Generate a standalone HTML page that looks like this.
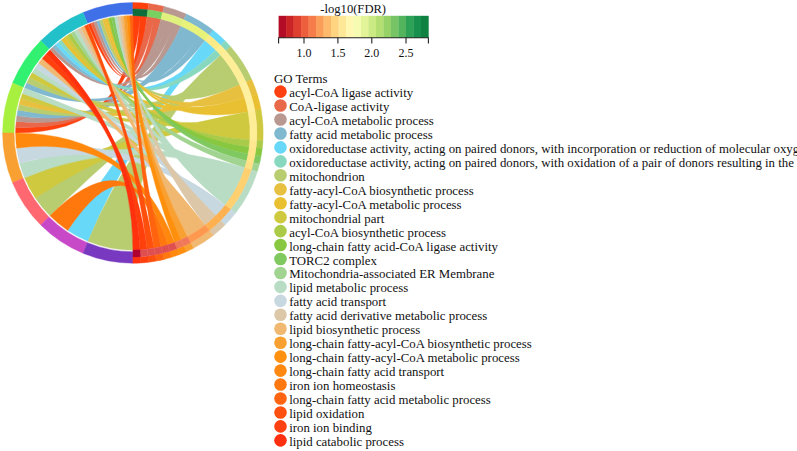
<!DOCTYPE html>
<html lang="en"><head><meta charset="utf-8"><title>GO chord plot</title>
<style>html,body{margin:0;padding:0;background:#fff;}body{width:797px;height:451px;overflow:hidden;}svg{display:block;}</style>
</head><body>
<svg width="797" height="451" viewBox="0 0 797 451" font-family="'Liberation Serif', 'Times New Roman', serif" fill="#111">
<defs><filter id="soft" x="-2%" y="-2%" width="104%" height="104%"><feGaussianBlur stdDeviation="0.4"/></filter></defs>
<rect width="797" height="451" fill="#fff"/>
<g id="chord" filter="url(#soft)">
<path d="M88.01 24.53A117.30 117.30 0 0 1 90.86 23.39Q132.90 132.90 139.98 15.81A117.30 117.30 0 0 1 147.04 16.46Q132.90 132.90 88.01 24.53ZM15.60 132.90A117.30 117.30 0 0 1 15.74 127.14Q132.90 132.90 132.90 15.60A117.30 117.30 0 0 1 139.98 15.81Q132.90 132.90 15.60 132.90Z" fill="#FF4010" stroke="#FF4010" stroke-width="0.35"/>
<path d="M90.86 23.39A117.30 117.30 0 0 1 93.74 22.33Q132.90 132.90 154.04 17.52A117.30 117.30 0 0 1 160.97 19.01Q132.90 132.90 90.86 23.39ZM15.74 127.14A117.30 117.30 0 0 1 16.16 121.40Q132.90 132.90 147.04 16.46A117.30 117.30 0 0 1 154.04 17.52Q132.90 132.90 15.74 127.14Z" fill="#E8684A" stroke="#E8684A" stroke-width="0.35"/>
<path d="M93.74 22.33A117.30 117.30 0 0 1 96.65 21.34Q132.90 132.90 174.50 23.22A117.30 117.30 0 0 1 181.04 25.93Q132.90 132.90 93.74 22.33ZM49.96 49.96A117.30 117.30 0 0 1 52.71 47.29Q132.90 132.90 167.80 20.91A117.30 117.30 0 0 1 174.50 23.22Q132.90 132.90 49.96 49.96ZM16.16 121.40A117.30 117.30 0 0 1 16.87 115.69Q132.90 132.90 160.97 19.01A117.30 117.30 0 0 1 167.80 20.91Q132.90 132.90 16.16 121.40Z" fill="#B89890" stroke="#B89890" stroke-width="0.35"/>
<path d="M96.65 21.34A117.30 117.30 0 0 1 99.59 20.43Q132.90 132.90 199.53 36.36A117.30 117.30 0 0 1 205.24 40.56Q132.90 132.90 96.65 21.34ZM52.71 47.29A117.30 117.30 0 0 1 55.56 44.71Q132.90 132.90 193.58 32.52A117.30 117.30 0 0 1 199.53 36.36Q132.90 132.90 52.71 47.29ZM24.53 88.01A117.30 117.30 0 0 1 26.86 82.75Q132.90 132.90 187.41 29.04A117.30 117.30 0 0 1 193.58 32.52Q132.90 132.90 24.53 88.01ZM16.87 115.69A117.30 117.30 0 0 1 17.85 110.02Q132.90 132.90 181.04 25.93A117.30 117.30 0 0 1 187.41 29.04Q132.90 132.90 16.87 115.69Z" fill="#80B8D0" stroke="#80B8D0" stroke-width="0.35"/>
<path d="M55.56 44.71A117.30 117.30 0 0 1 58.49 42.23Q132.90 132.90 210.68 45.10A117.30 117.30 0 0 1 215.84 49.96Q132.90 132.90 55.56 44.71ZM88.01 241.27A117.30 117.30 0 0 1 67.73 230.43Q132.90 132.90 205.24 40.56A117.30 117.30 0 0 1 210.68 45.10Q132.90 132.90 88.01 241.27Z" fill="#68D8F8" stroke="#68D8F8" stroke-width="0.35"/>
<path d="M58.49 42.23A117.30 117.30 0 0 1 61.49 39.84Q132.90 132.90 215.84 49.96A117.30 117.30 0 0 1 220.70 55.12Q132.90 132.90 58.49 42.23Z" fill="#88D8C0" stroke="#88D8C0" stroke-width="0.35"/>
<path d="M99.59 20.43A117.30 117.30 0 0 1 102.54 19.60Q132.90 132.90 236.76 78.39A117.30 117.30 0 0 1 239.87 84.76Q132.90 132.90 99.59 20.43ZM26.86 82.75A117.30 117.30 0 0 1 29.45 77.61Q132.90 132.90 233.28 72.22A117.30 117.30 0 0 1 236.76 78.39Q132.90 132.90 26.86 82.75ZM17.85 110.02A117.30 117.30 0 0 1 19.12 104.40Q132.90 132.90 229.44 66.27A117.30 117.30 0 0 1 233.28 72.22Q132.90 132.90 17.85 110.02ZM49.96 215.84A117.30 117.30 0 0 1 35.37 198.07Q132.90 132.90 225.24 60.56A117.30 117.30 0 0 1 229.44 66.27Q132.90 132.90 49.96 215.84ZM132.90 250.20A117.30 117.30 0 0 1 88.01 241.27Q132.90 132.90 220.70 55.12A117.30 117.30 0 0 1 225.24 60.56Q132.90 132.90 132.90 250.20Z" fill="#B8CC70" stroke="#B8CC70" stroke-width="0.35"/>
<path d="M102.54 19.60A117.30 117.30 0 0 1 105.52 18.84Q132.90 132.90 242.58 91.30A117.30 117.30 0 0 1 244.89 98.00Q132.90 132.90 102.54 19.60ZM19.12 104.40A117.30 117.30 0 0 1 20.65 98.85Q132.90 132.90 239.87 84.76A117.30 117.30 0 0 1 242.58 91.30Q132.90 132.90 19.12 104.40Z" fill="#E8C040" stroke="#E8C040" stroke-width="0.35"/>
<path d="M105.52 18.84A117.30 117.30 0 0 1 108.51 18.16Q132.90 132.90 246.79 104.83A117.30 117.30 0 0 1 248.28 111.76Q132.90 132.90 105.52 18.84ZM61.49 39.84A117.30 117.30 0 0 1 64.58 37.55Q132.90 132.90 244.89 98.00A117.30 117.30 0 0 1 246.79 104.83Q132.90 132.90 61.49 39.84Z" fill="#E8C030" stroke="#E8C030" stroke-width="0.35"/>
<path d="M64.58 37.55A117.30 117.30 0 0 1 67.73 35.37Q132.90 132.90 250.20 132.90A117.30 117.30 0 0 1 249.99 139.98Q132.90 132.90 64.58 37.55ZM29.45 77.61A117.30 117.30 0 0 1 32.29 72.60Q132.90 132.90 249.99 125.82A117.30 117.30 0 0 1 250.20 132.90Q132.90 132.90 29.45 77.61ZM20.65 98.85A117.30 117.30 0 0 1 22.46 93.38Q132.90 132.90 249.34 118.76A117.30 117.30 0 0 1 249.99 125.82Q132.90 132.90 20.65 98.85ZM35.37 198.07A117.30 117.30 0 0 1 24.53 177.79Q132.90 132.90 248.28 111.76A117.30 117.30 0 0 1 249.34 118.76Q132.90 132.90 35.37 198.07Z" fill="#CFC940" stroke="#CFC940" stroke-width="0.35"/>
<path d="M67.73 35.37A117.30 117.30 0 0 1 70.96 33.29Q132.90 132.90 249.99 139.98A117.30 117.30 0 0 1 249.34 147.04Q132.90 132.90 67.73 35.37Z" fill="#AACA48" stroke="#AACA48" stroke-width="0.35"/>
<path d="M108.51 18.16A117.30 117.30 0 0 1 111.52 17.56Q132.90 132.90 249.34 147.04A117.30 117.30 0 0 1 248.28 154.04Q132.90 132.90 108.51 18.16Z" fill="#88C840" stroke="#88C840" stroke-width="0.35"/>
<path d="M111.52 17.56A117.30 117.30 0 0 1 114.55 17.04Q132.90 132.90 248.28 154.04A117.30 117.30 0 0 1 246.79 160.97Q132.90 132.90 111.52 17.56Z" fill="#80C860" stroke="#80C860" stroke-width="0.35"/>
<path d="M70.96 33.29A117.30 117.30 0 0 1 74.25 31.32Q132.90 132.90 246.79 160.97A117.30 117.30 0 0 1 244.89 167.80Q132.90 132.90 70.96 33.29Z" fill="#A0D490" stroke="#A0D490" stroke-width="0.35"/>
<path d="M114.55 17.04A117.30 117.30 0 0 1 117.59 16.60Q132.90 132.90 230.23 198.36A117.30 117.30 0 0 1 225.24 205.24Q132.90 132.90 114.55 17.04ZM74.25 31.32A117.30 117.30 0 0 1 77.61 29.45Q132.90 132.90 234.72 191.14A117.30 117.30 0 0 1 230.23 198.36Q132.90 132.90 74.25 31.32ZM32.29 72.60A117.30 117.30 0 0 1 35.37 67.73Q132.90 132.90 238.67 183.61A117.30 117.30 0 0 1 234.72 191.14Q132.90 132.90 32.29 72.60ZM22.46 93.38A117.30 117.30 0 0 1 24.53 88.01Q132.90 132.90 242.07 175.82A117.30 117.30 0 0 1 238.67 183.61Q132.90 132.90 22.46 93.38ZM24.53 177.79A117.30 117.30 0 0 1 19.60 163.26Q132.90 132.90 244.89 167.80A117.30 117.30 0 0 1 242.07 175.82Q132.90 132.90 24.53 177.79Z" fill="#B8DCC4" stroke="#B8DCC4" stroke-width="0.35"/>
<path d="M35.37 67.73A117.30 117.30 0 0 1 38.68 63.02Q132.90 132.90 220.70 210.68A117.30 117.30 0 0 1 215.84 215.84Q132.90 132.90 35.37 67.73ZM19.60 163.26A117.30 117.30 0 0 1 16.60 148.21Q132.90 132.90 225.24 205.24A117.30 117.30 0 0 1 220.70 210.68Q132.90 132.90 19.60 163.26Z" fill="#C8D8E0" stroke="#C8D8E0" stroke-width="0.35"/>
<path d="M117.59 16.60A117.30 117.30 0 0 1 120.64 16.24Q132.90 132.90 210.68 220.70A117.30 117.30 0 0 1 205.24 225.24Q132.90 132.90 117.59 16.60ZM77.61 29.45A117.30 117.30 0 0 1 81.02 27.70Q132.90 132.90 215.84 215.84A117.30 117.30 0 0 1 210.68 220.70Q132.90 132.90 77.61 29.45Z" fill="#DCC8A8" stroke="#DCC8A8" stroke-width="0.35"/>
<path d="M120.64 16.24A117.30 117.30 0 0 1 123.70 15.96Q132.90 132.90 193.58 233.28A117.30 117.30 0 0 1 187.41 236.76Q132.90 132.90 120.64 16.24ZM81.02 27.70A117.30 117.30 0 0 1 84.49 26.06Q132.90 132.90 199.53 229.44A117.30 117.30 0 0 1 193.58 233.28Q132.90 132.90 81.02 27.70ZM38.68 63.02A117.30 117.30 0 0 1 42.23 58.49Q132.90 132.90 205.24 225.24A117.30 117.30 0 0 1 199.53 229.44Q132.90 132.90 38.68 63.02Z" fill="#F0B870" stroke="#F0B870" stroke-width="0.35"/>
<path d="M123.70 15.96A117.30 117.30 0 0 1 126.76 15.76Q132.90 132.90 187.41 236.76A117.30 117.30 0 0 1 181.04 239.87Q132.90 132.90 123.70 15.96Z" fill="#F8A030" stroke="#F8A030" stroke-width="0.35"/>
<path d="M126.76 15.76A117.30 117.30 0 0 1 129.83 15.64Q132.90 132.90 181.04 239.87A117.30 117.30 0 0 1 174.50 242.58Q132.90 132.90 126.76 15.76Z" fill="#FF9010" stroke="#FF9010" stroke-width="0.35"/>
<path d="M16.60 148.21A117.30 117.30 0 0 1 15.60 132.90Q132.90 132.90 174.50 242.58A117.30 117.30 0 0 1 167.80 244.89Q132.90 132.90 16.60 148.21Z" fill="#FF8810" stroke="#FF8810" stroke-width="0.35"/>
<path d="M67.73 230.43A117.30 117.30 0 0 1 49.96 215.84Q132.90 132.90 167.80 244.89A117.30 117.30 0 0 1 160.97 246.79Q132.90 132.90 67.73 230.43Z" fill="#FF7810" stroke="#FF7810" stroke-width="0.35"/>
<path d="M129.83 15.64A117.30 117.30 0 0 1 132.90 15.60Q132.90 132.90 160.97 246.79A117.30 117.30 0 0 1 154.04 248.28Q132.90 132.90 129.83 15.64Z" fill="#FF6410" stroke="#FF6410" stroke-width="0.35"/>
<path d="M84.49 26.06A117.30 117.30 0 0 1 88.01 24.53Q132.90 132.90 154.04 248.28A117.30 117.30 0 0 1 147.04 249.34Q132.90 132.90 84.49 26.06Z" fill="#FF5010" stroke="#FF5010" stroke-width="0.35"/>
<path d="M42.23 58.49A117.30 117.30 0 0 1 45.99 54.13Q132.90 132.90 147.04 249.34A117.30 117.30 0 0 1 139.98 249.99Q132.90 132.90 42.23 58.49Z" fill="#FF4010" stroke="#FF4010" stroke-width="0.35"/>
<path d="M45.99 54.13A117.30 117.30 0 0 1 49.96 49.96Q132.90 132.90 139.98 249.99A117.30 117.30 0 0 1 132.90 250.20Q132.90 132.90 45.99 54.13Z" fill="#FF3010" stroke="#FF3010" stroke-width="0.35"/>
<path d="M83.04 12.52A130.30 130.30 0 0 1 132.90 2.60L132.90 14.10A118.80 118.80 0 0 0 87.44 23.14Z" fill="#4070E8" stroke="#4070E8" stroke-width="0.4"/>
<path d="M40.76 40.76A130.30 130.30 0 0 1 83.04 12.52L87.44 23.14A118.80 118.80 0 0 0 48.90 48.90Z" fill="#20C0C8" stroke="#20C0C8" stroke-width="0.4"/>
<path d="M12.52 83.04A130.30 130.30 0 0 1 40.76 40.76L48.90 48.90A118.80 118.80 0 0 0 23.14 87.44Z" fill="#30F070" stroke="#30F070" stroke-width="0.4"/>
<path d="M2.60 132.90A130.30 130.30 0 0 1 12.52 83.04L23.14 87.44A118.80 118.80 0 0 0 14.10 132.90Z" fill="#A8F040" stroke="#A8F040" stroke-width="0.4"/>
<path d="M12.52 182.76A130.30 130.30 0 0 1 2.60 132.90L14.10 132.90A118.80 118.80 0 0 0 23.14 178.36Z" fill="#F8A030" stroke="#F8A030" stroke-width="0.4"/>
<path d="M40.76 225.04A130.30 130.30 0 0 1 12.52 182.76L23.14 178.36A118.80 118.80 0 0 0 48.90 216.90Z" fill="#FF6870" stroke="#FF6870" stroke-width="0.4"/>
<path d="M83.04 253.28A130.30 130.30 0 0 1 40.76 225.04L48.90 216.90A118.80 118.80 0 0 0 87.44 242.66Z" fill="#C848C8" stroke="#C848C8" stroke-width="0.4"/>
<path d="M132.90 263.20A130.30 130.30 0 0 1 83.04 253.28L87.44 242.66A118.80 118.80 0 0 0 132.90 251.70Z" fill="#7838C0" stroke="#7838C0" stroke-width="0.4"/>
<path d="M132.90 2.60A130.30 130.30 0 0 1 148.61 3.55L147.85 9.80A124.00 124.00 0 0 0 132.90 8.90Z" fill="#FF4010" stroke="#FF4010" stroke-width="0.4"/>
<path d="M132.90 8.90A124.00 124.00 0 0 1 147.85 9.80L147.03 16.55A117.20 117.20 0 0 0 132.90 15.70Z" fill="#0A6E3A" stroke="#0A6E3A" stroke-width="0.4"/>
<path d="M148.61 3.55A130.30 130.30 0 0 1 164.08 6.39L162.58 12.50A124.00 124.00 0 0 0 147.85 9.80Z" fill="#E8684A" stroke="#E8684A" stroke-width="0.4"/>
<path d="M147.85 9.80A124.00 124.00 0 0 1 162.58 12.50L160.95 19.11A117.20 117.20 0 0 0 147.03 16.55Z" fill="#78D060" stroke="#78D060" stroke-width="0.4"/>
<path d="M164.08 6.39A130.30 130.30 0 0 1 186.38 14.08L183.79 19.82A124.00 124.00 0 0 0 162.58 12.50Z" fill="#B89890" stroke="#B89890" stroke-width="0.4"/>
<path d="M162.58 12.50A124.00 124.00 0 0 1 183.79 19.82L181.00 26.03A117.20 117.20 0 0 0 160.95 19.11Z" fill="#E0F07C" stroke="#E0F07C" stroke-width="0.4"/>
<path d="M186.38 14.08A130.30 130.30 0 0 1 213.26 30.33L209.37 35.29A124.00 124.00 0 0 0 183.79 19.82Z" fill="#80B8D0" stroke="#80B8D0" stroke-width="0.4"/>
<path d="M183.79 19.82A124.00 124.00 0 0 1 209.37 35.29L205.18 40.64A117.20 117.20 0 0 0 181.00 26.03Z" fill="#E8F278" stroke="#E8F278" stroke-width="0.4"/>
<path d="M213.26 30.33A130.30 130.30 0 0 1 225.04 40.76L220.58 45.22A124.00 124.00 0 0 0 209.37 35.29Z" fill="#68D8F8" stroke="#68D8F8" stroke-width="0.4"/>
<path d="M209.37 35.29A124.00 124.00 0 0 1 220.58 45.22L215.77 50.03A117.20 117.20 0 0 0 205.18 40.64Z" fill="#FFEA88" stroke="#FFEA88" stroke-width="0.4"/>
<path d="M225.04 40.76A130.30 130.30 0 0 1 230.43 46.50L225.72 50.67A124.00 124.00 0 0 0 220.58 45.22Z" fill="#88D8C0" stroke="#88D8C0" stroke-width="0.4"/>
<path d="M220.58 45.22A124.00 124.00 0 0 1 225.72 50.67L220.63 55.18A117.20 117.20 0 0 0 215.77 50.03Z" fill="#FFEE90" stroke="#FFEE90" stroke-width="0.4"/>
<path d="M230.43 46.50A130.30 130.30 0 0 1 251.72 79.42L245.98 82.01A124.00 124.00 0 0 0 225.72 50.67Z" fill="#B8CC70" stroke="#B8CC70" stroke-width="0.4"/>
<path d="M225.72 50.67A124.00 124.00 0 0 1 245.98 82.01L239.77 84.80A117.20 117.20 0 0 0 220.63 55.18Z" fill="#FFEE98" stroke="#FFEE98" stroke-width="0.4"/>
<path d="M251.72 79.42A130.30 130.30 0 0 1 257.30 94.14L251.29 96.01A124.00 124.00 0 0 0 245.98 82.01Z" fill="#E8C040" stroke="#E8C040" stroke-width="0.4"/>
<path d="M245.98 82.01A124.00 124.00 0 0 1 251.29 96.01L244.79 98.03A117.20 117.20 0 0 0 239.77 84.80Z" fill="#FFF0A0" stroke="#FFF0A0" stroke-width="0.4"/>
<path d="M257.30 94.14A130.30 130.30 0 0 1 261.07 109.41L254.87 110.55A124.00 124.00 0 0 0 251.29 96.01Z" fill="#E8C030" stroke="#E8C030" stroke-width="0.4"/>
<path d="M251.29 96.01A124.00 124.00 0 0 1 254.87 110.55L248.18 111.77A117.20 117.20 0 0 0 244.79 98.03Z" fill="#FFF0A0" stroke="#FFF0A0" stroke-width="0.4"/>
<path d="M261.07 109.41A130.30 130.30 0 0 1 262.96 140.77L256.67 140.39A124.00 124.00 0 0 0 254.87 110.55Z" fill="#CFC940" stroke="#CFC940" stroke-width="0.4"/>
<path d="M254.87 110.55A124.00 124.00 0 0 1 256.67 140.39L249.89 139.98A117.20 117.20 0 0 0 248.18 111.77Z" fill="#FFEE98" stroke="#FFEE98" stroke-width="0.4"/>
<path d="M262.96 140.77A130.30 130.30 0 0 1 262.25 148.61L256.00 147.85A124.00 124.00 0 0 0 256.67 140.39Z" fill="#AACA48" stroke="#AACA48" stroke-width="0.4"/>
<path d="M256.67 140.39A124.00 124.00 0 0 1 256.00 147.85L249.25 147.03A117.20 117.20 0 0 0 249.89 139.98Z" fill="#FFE890" stroke="#FFE890" stroke-width="0.4"/>
<path d="M262.25 148.61A130.30 130.30 0 0 1 261.07 156.39L254.87 155.25A124.00 124.00 0 0 0 256.00 147.85Z" fill="#88C840" stroke="#88C840" stroke-width="0.4"/>
<path d="M256.00 147.85A124.00 124.00 0 0 1 254.87 155.25L248.18 154.03A117.20 117.20 0 0 0 249.25 147.03Z" fill="#FFE68C" stroke="#FFE68C" stroke-width="0.4"/>
<path d="M261.07 156.39A130.30 130.30 0 0 1 259.41 164.08L253.30 162.58A124.00 124.00 0 0 0 254.87 155.25Z" fill="#80C860" stroke="#80C860" stroke-width="0.4"/>
<path d="M254.87 155.25A124.00 124.00 0 0 1 253.30 162.58L246.69 160.95A117.20 117.20 0 0 0 248.18 154.03Z" fill="#FFE488" stroke="#FFE488" stroke-width="0.4"/>
<path d="M259.41 164.08A130.30 130.30 0 0 1 257.30 171.66L251.29 169.79A124.00 124.00 0 0 0 253.30 162.58Z" fill="#A0D490" stroke="#A0D490" stroke-width="0.4"/>
<path d="M253.30 162.58A124.00 124.00 0 0 1 251.29 169.79L244.79 167.77A117.20 117.20 0 0 0 246.69 160.95Z" fill="#FFE084" stroke="#FFE084" stroke-width="0.4"/>
<path d="M257.30 171.66A130.30 130.30 0 0 1 235.47 213.26L230.51 209.37A124.00 124.00 0 0 0 251.29 169.79Z" fill="#B8DCC4" stroke="#B8DCC4" stroke-width="0.4"/>
<path d="M251.29 169.79A124.00 124.00 0 0 1 230.51 209.37L225.16 205.18A117.20 117.20 0 0 0 244.79 167.77Z" fill="#FFD070" stroke="#FFD070" stroke-width="0.4"/>
<path d="M235.47 213.26A130.30 130.30 0 0 1 225.04 225.04L220.58 220.58A124.00 124.00 0 0 0 230.51 209.37Z" fill="#C8D8E0" stroke="#C8D8E0" stroke-width="0.4"/>
<path d="M230.51 209.37A124.00 124.00 0 0 1 220.58 220.58L215.77 215.77A117.20 117.20 0 0 0 225.16 205.18Z" fill="#FFB050" stroke="#FFB050" stroke-width="0.4"/>
<path d="M225.04 225.04A130.30 130.30 0 0 1 213.26 235.47L209.37 230.51A124.00 124.00 0 0 0 220.58 220.58Z" fill="#DCC8A8" stroke="#DCC8A8" stroke-width="0.4"/>
<path d="M220.58 220.58A124.00 124.00 0 0 1 209.37 230.51L205.18 225.16A117.20 117.20 0 0 0 215.77 215.77Z" fill="#FFB050" stroke="#FFB050" stroke-width="0.4"/>
<path d="M213.26 235.47A130.30 130.30 0 0 1 193.45 248.27L190.53 242.70A124.00 124.00 0 0 0 209.37 230.51Z" fill="#F0B870" stroke="#F0B870" stroke-width="0.4"/>
<path d="M209.37 230.51A124.00 124.00 0 0 1 190.53 242.70L187.37 236.68A117.20 117.20 0 0 0 205.18 225.16Z" fill="#FF9850" stroke="#FF9850" stroke-width="0.4"/>
<path d="M193.45 248.27A130.30 130.30 0 0 1 186.38 251.72L183.79 245.98A124.00 124.00 0 0 0 190.53 242.70Z" fill="#F8A030" stroke="#F8A030" stroke-width="0.4"/>
<path d="M190.53 242.70A124.00 124.00 0 0 1 183.79 245.98L181.00 239.77A117.20 117.20 0 0 0 187.37 236.68Z" fill="#F07858" stroke="#F07858" stroke-width="0.4"/>
<path d="M186.38 251.72A130.30 130.30 0 0 1 179.11 254.73L176.87 248.84A124.00 124.00 0 0 0 183.79 245.98Z" fill="#FF9010" stroke="#FF9010" stroke-width="0.4"/>
<path d="M183.79 245.98A124.00 124.00 0 0 1 176.87 248.84L174.46 242.48A117.20 117.20 0 0 0 181.00 239.77Z" fill="#F07858" stroke="#F07858" stroke-width="0.4"/>
<path d="M179.11 254.73A130.30 130.30 0 0 1 171.66 257.30L169.79 251.29A124.00 124.00 0 0 0 176.87 248.84Z" fill="#FF8810" stroke="#FF8810" stroke-width="0.4"/>
<path d="M176.87 248.84A124.00 124.00 0 0 1 169.79 251.29L167.77 244.79A117.20 117.20 0 0 0 174.46 242.48Z" fill="#E05050" stroke="#E05050" stroke-width="0.4"/>
<path d="M171.66 257.30A130.30 130.30 0 0 1 164.08 259.41L162.58 253.30A124.00 124.00 0 0 0 169.79 251.29Z" fill="#FF7810" stroke="#FF7810" stroke-width="0.4"/>
<path d="M169.79 251.29A124.00 124.00 0 0 1 162.58 253.30L160.95 246.69A117.20 117.20 0 0 0 167.77 244.79Z" fill="#E05050" stroke="#E05050" stroke-width="0.4"/>
<path d="M164.08 259.41A130.30 130.30 0 0 1 156.39 261.07L155.25 254.87A124.00 124.00 0 0 0 162.58 253.30Z" fill="#FF6410" stroke="#FF6410" stroke-width="0.4"/>
<path d="M162.58 253.30A124.00 124.00 0 0 1 155.25 254.87L154.03 248.18A117.20 117.20 0 0 0 160.95 246.69Z" fill="#E05050" stroke="#E05050" stroke-width="0.4"/>
<path d="M156.39 261.07A130.30 130.30 0 0 1 148.61 262.25L147.85 256.00A124.00 124.00 0 0 0 155.25 254.87Z" fill="#FF5010" stroke="#FF5010" stroke-width="0.4"/>
<path d="M155.25 254.87A124.00 124.00 0 0 1 147.85 256.00L147.03 249.25A117.20 117.20 0 0 0 154.03 248.18Z" fill="#E05050" stroke="#E05050" stroke-width="0.4"/>
<path d="M148.61 262.25A130.30 130.30 0 0 1 140.77 262.96L140.39 256.67A124.00 124.00 0 0 0 147.85 256.00Z" fill="#FF4010" stroke="#FF4010" stroke-width="0.4"/>
<path d="M147.85 256.00A124.00 124.00 0 0 1 140.39 256.67L139.98 249.89A117.20 117.20 0 0 0 147.03 249.25Z" fill="#E05050" stroke="#E05050" stroke-width="0.4"/>
<path d="M140.77 262.96A130.30 130.30 0 0 1 132.90 263.20L132.90 256.90A124.00 124.00 0 0 0 140.39 256.67Z" fill="#FF3010" stroke="#FF3010" stroke-width="0.4"/>
<path d="M140.39 256.67A124.00 124.00 0 0 1 132.90 256.90L132.90 250.10A117.20 117.20 0 0 0 139.98 249.89Z" fill="#B00030" stroke="#B00030" stroke-width="0.4"/>
</g>
<g id="bar">
<rect x="278.60" y="15.80" width="7.79" height="22.00" fill="#B20C26"/>
<rect x="286.09" y="15.80" width="7.79" height="22.00" fill="#CA2427"/>
<rect x="293.58" y="15.80" width="7.79" height="22.00" fill="#DE3F2E"/>
<rect x="301.07" y="15.80" width="7.79" height="22.00" fill="#ED5E3C"/>
<rect x="308.56" y="15.80" width="7.79" height="22.00" fill="#F67D4A"/>
<rect x="316.05" y="15.80" width="7.79" height="22.00" fill="#FB9E5A"/>
<rect x="323.54" y="15.80" width="7.79" height="22.00" fill="#FDBA6C"/>
<rect x="331.03" y="15.80" width="7.79" height="22.00" fill="#FED480"/>
<rect x="338.52" y="15.80" width="7.79" height="22.00" fill="#FEE898"/>
<rect x="346.01" y="15.80" width="7.79" height="22.00" fill="#FFF7B2"/>
<rect x="353.50" y="15.80" width="7.79" height="22.00" fill="#F6FBB2"/>
<rect x="360.99" y="15.80" width="7.79" height="22.00" fill="#E2F398"/>
<rect x="368.48" y="15.80" width="7.79" height="22.00" fill="#CCEA83"/>
<rect x="375.97" y="15.80" width="7.79" height="22.00" fill="#B3DE72"/>
<rect x="383.46" y="15.80" width="7.79" height="22.00" fill="#96D268"/>
<rect x="390.95" y="15.80" width="7.79" height="22.00" fill="#76C465"/>
<rect x="398.44" y="15.80" width="7.79" height="22.00" fill="#53B45E"/>
<rect x="405.93" y="15.80" width="7.79" height="22.00" fill="#2DA155"/>
<rect x="413.42" y="15.80" width="7.79" height="22.00" fill="#16904C"/>
<rect x="420.91" y="15.80" width="7.79" height="22.00" fill="#0F8242"/>
<path d="M278.60 37.80H428.40" stroke="#222" stroke-width="1.1" fill="none"/>
<path d="M278.60 37.50V43.40" stroke="#222" stroke-width="1.1"/>
<path d="M304.00 37.50V43.40" stroke="#222" stroke-width="1.1"/>
<text x="304.00" y="57.0" text-anchor="middle" font-size="12">1.0</text>
<path d="M337.90 37.50V43.40" stroke="#222" stroke-width="1.1"/>
<text x="337.90" y="57.0" text-anchor="middle" font-size="12">1.5</text>
<path d="M371.80 37.50V43.40" stroke="#222" stroke-width="1.1"/>
<text x="371.80" y="57.0" text-anchor="middle" font-size="12">2.0</text>
<path d="M406.00 37.50V43.40" stroke="#222" stroke-width="1.1"/>
<text x="406.00" y="57.0" text-anchor="middle" font-size="12">2.5</text>
<path d="M428.40 37.50V43.40" stroke="#222" stroke-width="1.1"/>
<text x="353.2" y="13.3" text-anchor="middle" font-size="12.6">-log10(FDR)</text>
</g>
<g id="legend">
<text x="274" y="83.2" font-size="12.84">GO Terms</text>
<circle cx="280.5" cy="91.60" r="6.3" fill="#FF4010"/>
<text x="289.2" y="97.10" font-size="12.84">acyl-CoA ligase activity</text>
<circle cx="280.5" cy="105.55" r="6.3" fill="#E8684A"/>
<text x="289.2" y="111.05" font-size="12.84">CoA-ligase activity</text>
<circle cx="280.5" cy="119.50" r="6.3" fill="#B89890"/>
<text x="289.2" y="125.00" font-size="12.84">acyl-CoA metabolic process</text>
<circle cx="280.5" cy="133.45" r="6.3" fill="#80B8D0"/>
<text x="289.2" y="138.95" font-size="12.84">fatty acid metabolic process</text>
<circle cx="280.5" cy="147.40" r="6.3" fill="#68D8F8"/>
<text x="289.2" y="152.90" font-size="12.84">oxidoreductase activity, acting on paired donors, with incorporation or reduction of molecular oxygen</text>
<circle cx="280.5" cy="161.35" r="6.3" fill="#88D8C0"/>
<text x="289.2" y="166.85" font-size="12.84">oxidoreductase activity, acting on paired donors, with oxidation of a pair of donors resulting in the reduction of molecular oxygen to two molecules of water</text>
<circle cx="280.5" cy="175.30" r="6.3" fill="#B8CC70"/>
<text x="289.2" y="180.80" font-size="12.84">mitochondrion</text>
<circle cx="280.5" cy="189.25" r="6.3" fill="#E8C040"/>
<text x="289.2" y="194.75" font-size="12.84">fatty-acyl-CoA biosynthetic process</text>
<circle cx="280.5" cy="203.20" r="6.3" fill="#E8C030"/>
<text x="289.2" y="208.70" font-size="12.84">fatty-acyl-CoA metabolic process</text>
<circle cx="280.5" cy="217.15" r="6.3" fill="#CFC940"/>
<text x="289.2" y="222.65" font-size="12.84">mitochondrial part</text>
<circle cx="280.5" cy="231.10" r="6.3" fill="#AACA48"/>
<text x="289.2" y="236.60" font-size="12.84">acyl-CoA biosynthetic process</text>
<circle cx="280.5" cy="245.05" r="6.3" fill="#88C840"/>
<text x="289.2" y="250.55" font-size="12.84">long-chain fatty acid-CoA ligase activity</text>
<circle cx="280.5" cy="259.00" r="6.3" fill="#80C860"/>
<text x="289.2" y="264.50" font-size="12.84">TORC2 complex</text>
<circle cx="280.5" cy="272.95" r="6.3" fill="#A0D490"/>
<text x="289.2" y="278.45" font-size="12.84">Mitochondria-associated ER Membrane</text>
<circle cx="280.5" cy="286.90" r="6.3" fill="#B8DCC4"/>
<text x="289.2" y="292.40" font-size="12.84">lipid metabolic process</text>
<circle cx="280.5" cy="300.85" r="6.3" fill="#C8D8E0"/>
<text x="289.2" y="306.35" font-size="12.84">fatty acid transport</text>
<circle cx="280.5" cy="314.80" r="6.3" fill="#DCC8A8"/>
<text x="289.2" y="320.30" font-size="12.84">fatty acid derivative metabolic process</text>
<circle cx="280.5" cy="328.75" r="6.3" fill="#F0B870"/>
<text x="289.2" y="334.25" font-size="12.84">lipid biosynthetic process</text>
<circle cx="280.5" cy="342.70" r="6.3" fill="#F8A030"/>
<text x="289.2" y="348.20" font-size="12.84">long-chain fatty-acyl-CoA biosynthetic process</text>
<circle cx="280.5" cy="356.65" r="6.3" fill="#FF9010"/>
<text x="289.2" y="362.15" font-size="12.84">long-chain fatty-acyl-CoA metabolic process</text>
<circle cx="280.5" cy="370.60" r="6.3" fill="#FF8810"/>
<text x="289.2" y="376.10" font-size="12.84">long-chain fatty acid transport</text>
<circle cx="280.5" cy="384.55" r="6.3" fill="#FF7810"/>
<text x="289.2" y="390.05" font-size="12.84">iron ion homeostasis</text>
<circle cx="280.5" cy="398.50" r="6.3" fill="#FF6410"/>
<text x="289.2" y="404.00" font-size="12.84">long-chain fatty acid metabolic process</text>
<circle cx="280.5" cy="412.45" r="6.3" fill="#FF5010"/>
<text x="289.2" y="417.95" font-size="12.84">lipid oxidation</text>
<circle cx="280.5" cy="426.40" r="6.3" fill="#FF4010"/>
<text x="289.2" y="431.90" font-size="12.84">iron ion binding</text>
<circle cx="280.5" cy="440.35" r="6.3" fill="#FF3010"/>
<text x="289.2" y="445.85" font-size="12.84">lipid catabolic process</text>
</g>
</svg>
</body></html>
